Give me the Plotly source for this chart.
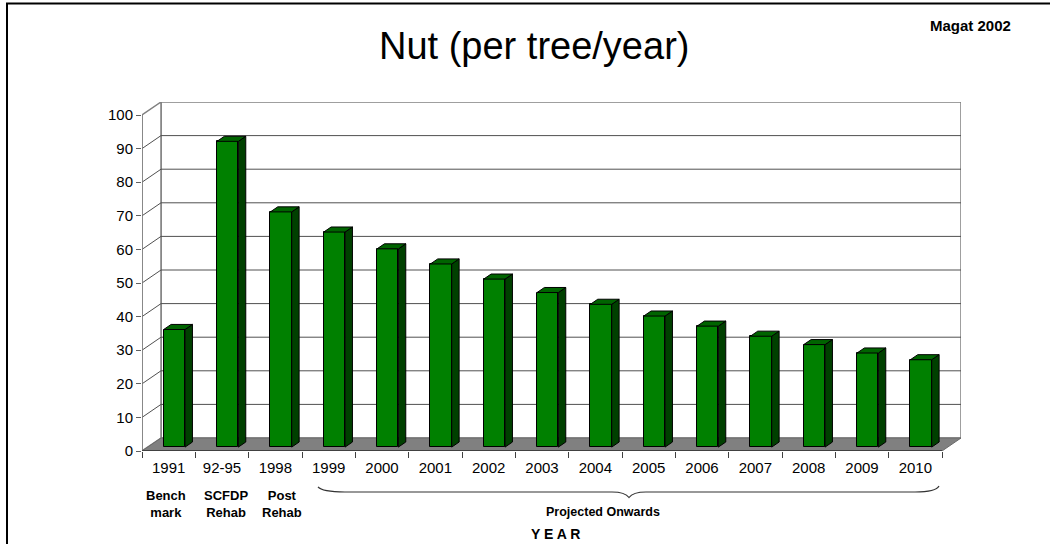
import plotly.graph_objects as go

# ---------------- data ----------------
years = ["1991", "92-95", "1998", "1999", "2000", "2001", "2002", "2003",
         "2004", "2005", "2006", "2007", "2008", "2009", "2010"]
nuts = [35, 91, 70, 64, 59, 54.5, 50, 46, 42.5, 39, 36, 33, 30.5, 28, 26]
sub_labels = ["Bench<br>mark", "SCFDP<br>Rehab", "Post<br>Rehab"]
y_ticks = list(range(0, 101, 10))
title_text = "Nut (per tree/year)"
source_text = "Magat 2002"
group_text = "Projected Onwards"
x_title = "Y E A R"

# ---------------- geometry (layout only) ----------------
W, H = 1050, 544
L, R, T, B = 142, 961, 102, 451          # plot area in px
DXP, DYP = 19, 13                         # 3-D depth offset in px
n = len(years)
unit_x = (R - L - DXP) / n
unit_y = (B - (T + DYP)) / 100.0
DX = DXP / unit_x
DY = DYP / unit_y
XMIN, XMAX = -0.5, n - 0.5
F = 0.30      # depth position of bar front face
BD = 0.39     # bar depth fraction
HW = 0.20     # half bar width

FONT = "Liberation Sans, Arial, sans-serif"
GRID = "#505050"
WALL = "#808080"


def px2paper(px, py):
    return (px - L) / (R - L), (B - py) / (B - T)


fig = go.Figure()
shapes = []


def poly_shape(xs, ys, fill, line, width=1):
    path = "M " + " L ".join("%.5f,%.5f" % (a, b) for a, b in zip(xs, ys)) + " Z"
    shapes.append(dict(type="path", path=path, xref="x", yref="y", layer="below",
                       fillcolor=fill, line=dict(color=line, width=width)))


def line_shape(x0, y0, x1, y1, color, width=1):
    shapes.append(dict(type="line", x0=x0, y0=y0, x1=x1, y1=y1, xref="x", yref="y",
                       layer="below", line=dict(color=color, width=width)))


# back wall and left wall
poly_shape([XMIN + DX, XMAX + DX, XMAX + DX, XMIN + DX],
           [DY, DY, 100 + DY, 100 + DY], "white", WALL, 1.5)
poly_shape([XMIN, XMIN + DX, XMIN + DX, XMIN],
           [0, DY, 100 + DY, 100], "white", WALL, 1.5)
# gridlines
for v in y_ticks[1:-1]:
    line_shape(XMIN, v, XMIN + DX, v + DY, GRID, 1)
    line_shape(XMIN + DX, v + DY, XMAX + DX, v + DY, GRID, 1)
# floor
poly_shape([XMIN, XMAX, XMAX + DX, XMIN + DX], [0, 0, DY, DY], "#808080", "#6a6a6a", 1)
# front axis lines
line_shape(XMIN, 0, XMIN, 100, WALL, 1.5)
line_shape(XMIN, 0, XMAX, 0, "#303030", 1.5)

# bar front faces
fig.add_trace(go.Bar(x=[i + F * DX for i in range(n)], y=nuts, base=F * DY,
                     width=2 * HW, marker=dict(color="#008000",
                                               line=dict(color="black", width=1)),
                     hoverinfo="skip", showlegend=False))


def poly(xs, ys, fill, line, width=1):
    fig.add_trace(go.Scatter(x=xs + [xs[0]], y=ys + [ys[0]], mode="lines",
                             fill="toself", fillcolor=fill,
                             line=dict(color=line, width=width),
                             hoverinfo="skip", showlegend=False))


# bar side and top faces
for i, v in enumerate(nuts):
    xl = i - HW + F * DX
    xr = i + HW + F * DX
    y0 = F * DY
    top = y0 + v
    bx, by = BD * DX, BD * DY
    poly([xr, xr + bx, xr + bx, xr], [y0, y0 + by, top + by, top], "#004000", "black", 1)
    poly([xl, xr, xr + bx, xl + bx], [top, top, top + by, top + by], "#006400", "black", 1)

# invisible trace for boundary tick axis
fig.add_trace(go.Scatter(x=[0], y=[0], xaxis="x2", mode="none",
                         hoverinfo="skip", showlegend=False))

# ---------------- annotations ----------------
ann = []


def add_text(px, py, text, size):
    ax_, ay_ = px2paper(px, py)
    ann.append(dict(x=ax_, y=ay_, xref="paper", yref="paper", text=text,
                    showarrow=False, font=dict(size=size, family=FONT, color="black"),
                    xanchor="center", yanchor="middle"))


add_text(534, 46, title_text, 38)
add_text(970, 25, "<b>%s</b>" % source_text, 15)
for lbl, cx in zip(sub_labels, [166, 226, 282]):
    add_text(cx, 503.5, "<b>%s</b>" % lbl, 13)
add_text(603, 512, "<b>%s</b>" % group_text, 12.5)
add_text(555, 534, "<b>%s</b>" % x_title, 14)


def P(px, py):
    a, b = px2paper(px, py)
    return "%.5f,%.5f" % (a, b)


brace = ("M " + P(318, 487) + " Q " + P(322, 492) + " " + P(345, 492) +
         " L " + P(612, 492) + " Q " + P(625, 492) + " " + P(629, 497.5) +
         " Q " + P(633, 492) + " " + P(646, 492) +
         " L " + P(915, 492) + " Q " + P(936, 492) + " " + P(939, 486))
shapes.append(dict(type="path", path=brace, xref="paper", yref="paper",
                   line=dict(color="#333333", width=1.2)))

fx0, fy0 = px2paper(7, 3.5)
fx1, fy1 = px2paper(1200, 700)
shapes.append(dict(type="rect", xref="paper", yref="paper", x0=fx0, y0=fy0,
                   x1=fx1, y1=fy1, line=dict(color="black", width=2),
                   fillcolor="rgba(0,0,0,0)"))

fig.update_layout(
    width=W, height=H, autosize=False,
    margin=dict(l=L, r=W - R, t=T, b=H - B, pad=0),
    paper_bgcolor="white", plot_bgcolor="white",
    showlegend=False, bargap=0,
    font=dict(family=FONT, color="black"),
    xaxis=dict(range=[XMIN, XMAX + DX], showgrid=False, zeroline=False,
               showline=False, tickmode="array", tickvals=list(range(n)),
               ticktext=years, ticks="outside", ticklen=3,
               tickcolor="rgba(0,0,0,0)", tickfont=dict(size=15, family=FONT),
               fixedrange=True),
    xaxis2=dict(range=[XMIN, XMAX + DX], overlaying="x", anchor="y", side="bottom",
                showgrid=False, zeroline=False, showline=False,
                tickmode="array", tickvals=[XMIN + k for k in range(n + 1)],
                ticks="outside", ticklen=6, tickcolor="#404040", tickwidth=1.2,
                showticklabels=False, fixedrange=True),
    yaxis=dict(range=[0, 100 + DY], showgrid=False, zeroline=False, showline=False,
               tickmode="array", tickvals=y_ticks, ticks="outside", ticklen=5,
               tickcolor="#606060", tickwidth=1.2,
               tickfont=dict(size=15, family=FONT), fixedrange=True),
    annotations=ann, shapes=shapes,
)

fig.write_html("out.html", config={"displayModeBar": False},
               post_script="document.body.style.margin='0px';")
